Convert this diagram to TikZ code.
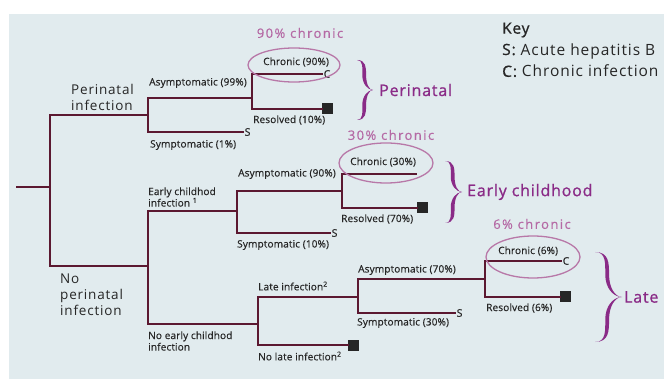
\documentclass[tikz,border=0pt]{standalone}
\usepackage{fontspec}
\setmainfont{Open Sans}
\definecolor{bgc}{HTML}{E1EBEE}
\definecolor{treec}{HTML}{5B1830}
\definecolor{purp}{HTML}{8A2B87}
\definecolor{pinkc}{HTML}{B56AA5}
\definecolor{ellc}{HTML}{B878A8}
\definecolor{txtc}{HTML}{262626}
% calligraphic brace: tip x, tip y, height, depth
\newcommand\calbrace[4]{%
  \begin{scope}[shift={(#1,#2)}]
    \pgfmathsetmacro\bh{#3/2}\pgfmathsetmacro\bq{#3/4}
    \pgfmathsetmacro\ba{#4}\pgfmathsetmacro\bb{0.55*#4}
    \pgfmathsetmacro\bt{#3/2-#3/8}\pgfmathsetmacro\bs{#3/10}
    \fill[purp]
      (-\ba,-\bh) .. controls (-\bb+1.9,-\bh) and (-\bb+1.9,-\bt) .. (-\bb+1.9,-\bq)
      .. controls (-\bb+1.9,-\bs) and (-\ba/4,0) .. (0,0)
      .. controls (-\ba/4,0) and (-\bb+1.9,\bs) .. (-\bb+1.9,\bq)
      .. controls (-\bb+1.9,\bt) and (-\bb+1.9,\bh) .. (-\ba,\bh)
      .. controls (-\bb-1.0,\bh) and (-\bb-1.9,\bt) .. (-\bb-1.9,\bq)
      .. controls (-\bb-1.9,\bs) and (-\ba/3,0.6) .. (-0.8,0)
      .. controls (-\ba/3,-0.6) and (-\bb-1.9,-\bs) .. (-\bb-1.9,-\bq)
      .. controls (-\bb-1.9,-\bt) and (-\bb-1.0,-\bh) .. cycle;
  \end{scope}}
\begin{document}
\begin{tikzpicture}[x=1pt,y=-1pt,
  tree/.style={draw=treec,line width=2.2pt,line cap=rect},
  lbl/.style={inner sep=0pt,anchor=west,text=txtc,font=\fontsize{10.1}{11.5}\selectfont\addfontfeatures{LetterSpace=1,FakeBold=0.3}},
  big/.style={inner sep=0pt,anchor=west,text=txtc,align=left,font=\fontsize{13.5}{16}\selectfont\addfontfeatures{LetterSpace=6}},
  grp/.style={inner sep=0pt,anchor=west,text=purp,font=\fontsize{16}{18}\selectfont\addfontfeatures{LetterSpace=5,FakeBold=1}},
  pct/.style={inner sep=0pt,text=pinkc,font=\fontsize{13}{14}\selectfont\addfontfeatures{LetterSpace=11,FakeBold=0.5}},
  keyt/.style={inner sep=0pt,anchor=west,text=txtc,font=\fontsize{15.5}{17}\selectfont\addfontfeatures{LetterSpace=6}},
  endl/.style={inner ysep=0pt,inner xsep=1.5pt,anchor=west,text=txtc,font=\fontsize{10.5}{11}\selectfont\addfontfeatures{FakeBold=0.3}},
  sq/.style={fill=black!85,minimum size=11pt,inner sep=0pt},
  ell/.style={draw=ellc,line width=1.3pt}]
\useasboundingbox (0,0) rectangle (664,379);
\fill[white] (0,0) rectangle (664,379);
\fill[bgc] (9,14) rectangle (664,379);

% ---- coordinates
\coordinate (r) at (17,187);
\coordinate (ra) at (50,115);
\coordinate (rb) at (50,266);
% perinatal
\coordinate (pa) at (148,98);
\coordinate (pb) at (148,132);
\coordinate (pm) at (148,115);
\coordinate (pA) at (252,98);
\coordinate (pAr) at (252,109);
\node[endl] (pS) at (243,132) {S};
\node[endl] (pC) at (322,74) {C};
\node[sq,anchor=west] (pR) at (322,109) {};
% early
\coordinate (ea) at (148,211);
\coordinate (eb) at (148,324);
\coordinate (em) at (148,266);
\coordinate (eA) at (237,191);
\coordinate (eB) at (237,234);
\coordinate (eAm) at (237,211);
\coordinate (eX) at (342,191);
\coordinate (eXc) at (342,174);
\coordinate (eCe) at (416,174);
\node[endl] (eS) at (330,233) {S};
\node[sq,anchor=west] (eR) at (417,208) {};
% late
\coordinate (la) at (258,297);
\coordinate (lb) at (258,346);
\coordinate (lm) at (258,324);
\node[sq,anchor=west] (lN) at (348,345) {};
\coordinate (lA) at (358,279);
\coordinate (lB) at (358,314);
\coordinate (lAm) at (358,297);
\node[endl] (lS) at (455,313) {S};
\coordinate (lX) at (485,279);
\coordinate (lXr) at (485,297);
\node[endl] (lC) at (561,261) {C};
\node[sq,anchor=west] (lR) at (560,297) {};

% ---- tree lines
\draw[tree] (r) -- (r -| ra);
\draw[tree] (ra) -- (rb);
\draw[tree] (ra) -- (pm);
\draw[tree] (pS.west) -| (pa) -- (pA);
\draw[tree] (pC.west) -| (pAr) -- (pR.west);
\draw[tree] (rb) -- (em);
\draw[tree] (ea) -- (eb);
\draw[tree] (ea) -- (eAm);
\draw[tree] (eS.west) -| (eA) -- (eX);
\draw[tree] (eCe) -| (eX) |- (eR.west);
\draw[tree] (eb) -- (lm);
\draw[tree] (lN.west) -| (la) -- (lAm);
\draw[tree] (lS.west) -| (lA) -- (lX);
\draw[tree] (lC.west) -| (lXr) -- (lR.west);

% ---- labels
\node[big] (tPer) at (71,97) {Perinatal\\infection};
\node[big] (tNoPer) at (60,295) {No\\perinatal\\infection};
\node[lbl] (tA99) at (149,83) {Asymptomatic (99\%)};
\node[lbl] (tS1) at (150,145) {Symptomatic (1\%)};
\node[lbl] (tC90) at (263,62) {Chronic (90\%)};
\node[lbl] (tR10) at (253,120) {Resolved (10\%)};
\node[lbl,align=left] (tEarly) at (148,197) {Early childhod\\infection \textsuperscript{1}};
\node[lbl,align=left] (tNoEarly) at (148,341) {No early childhod\\infection};
\node[lbl] (tA90) at (238,174) {Asymptomatic (90\%)};
\node[lbl] (tS10) at (237,245) {Symptomatic (10\%)};
\node[lbl] (tC30) at (350,162) {Chronic (30\%)};
\node[lbl] (tR70) at (341,219) {Resolved (70\%)};
\node[lbl] (tLate) at (258,286) {Late infection\textsuperscript{2}};
\node[lbl] (tNoLate) at (258,356) {No late infection\textsuperscript{2}};
\node[lbl] (tA70) at (358,270) {Asymptomatic (70\%)};
\node[lbl] (tS30) at (357,323) {Symptomatic (30\%)};
\node[lbl] (tC6) at (498,251) {Chronic (6\%)};
\node[lbl] (tR6) at (486,308) {Resolved (6\%)};

% ---- ellipses and percent headers
\draw[ell] (294,65) ellipse [x radius=46, y radius=17];
\draw[ell] (386,163) ellipse [x radius=47, y radius=20];
\draw[ell] (533,257) ellipse [x radius=47, y radius=21];
\node[pct] (h90) at (300,33) {90\% chronic};
\node[pct] (h30) at (391,135) {30\% chronic};
\node[pct] (h6) at (532,224) {6\% chronic};

% ---- braces and group labels
\calbrace{373}{90}{60}{16}
\calbrace{462}{192}{62}{17}
\calbrace{622}{297}{90}{27}
\node[grp] (gPer) at (379,90) {Perinatal};
\node[grp] (gEarly) at (467,192) {Early childhood};
\node[grp] (gLate) at (624,297) {Late};

% ---- key
\node[keyt,font=\fontsize{15.5}{17}\selectfont\addfontfeatures{LetterSpace=5,FakeBold=1}] (kKey) at (502,30) {Key};
\node[keyt] (kS) at (502,51) {{\addfontfeatures{FakeBold=1}S:} Acute hepatitis B};
\node[keyt] (kC) at (502,71) {{\addfontfeatures{FakeBold=1}C:} Chronic infection};
\end{tikzpicture}
\end{document}
